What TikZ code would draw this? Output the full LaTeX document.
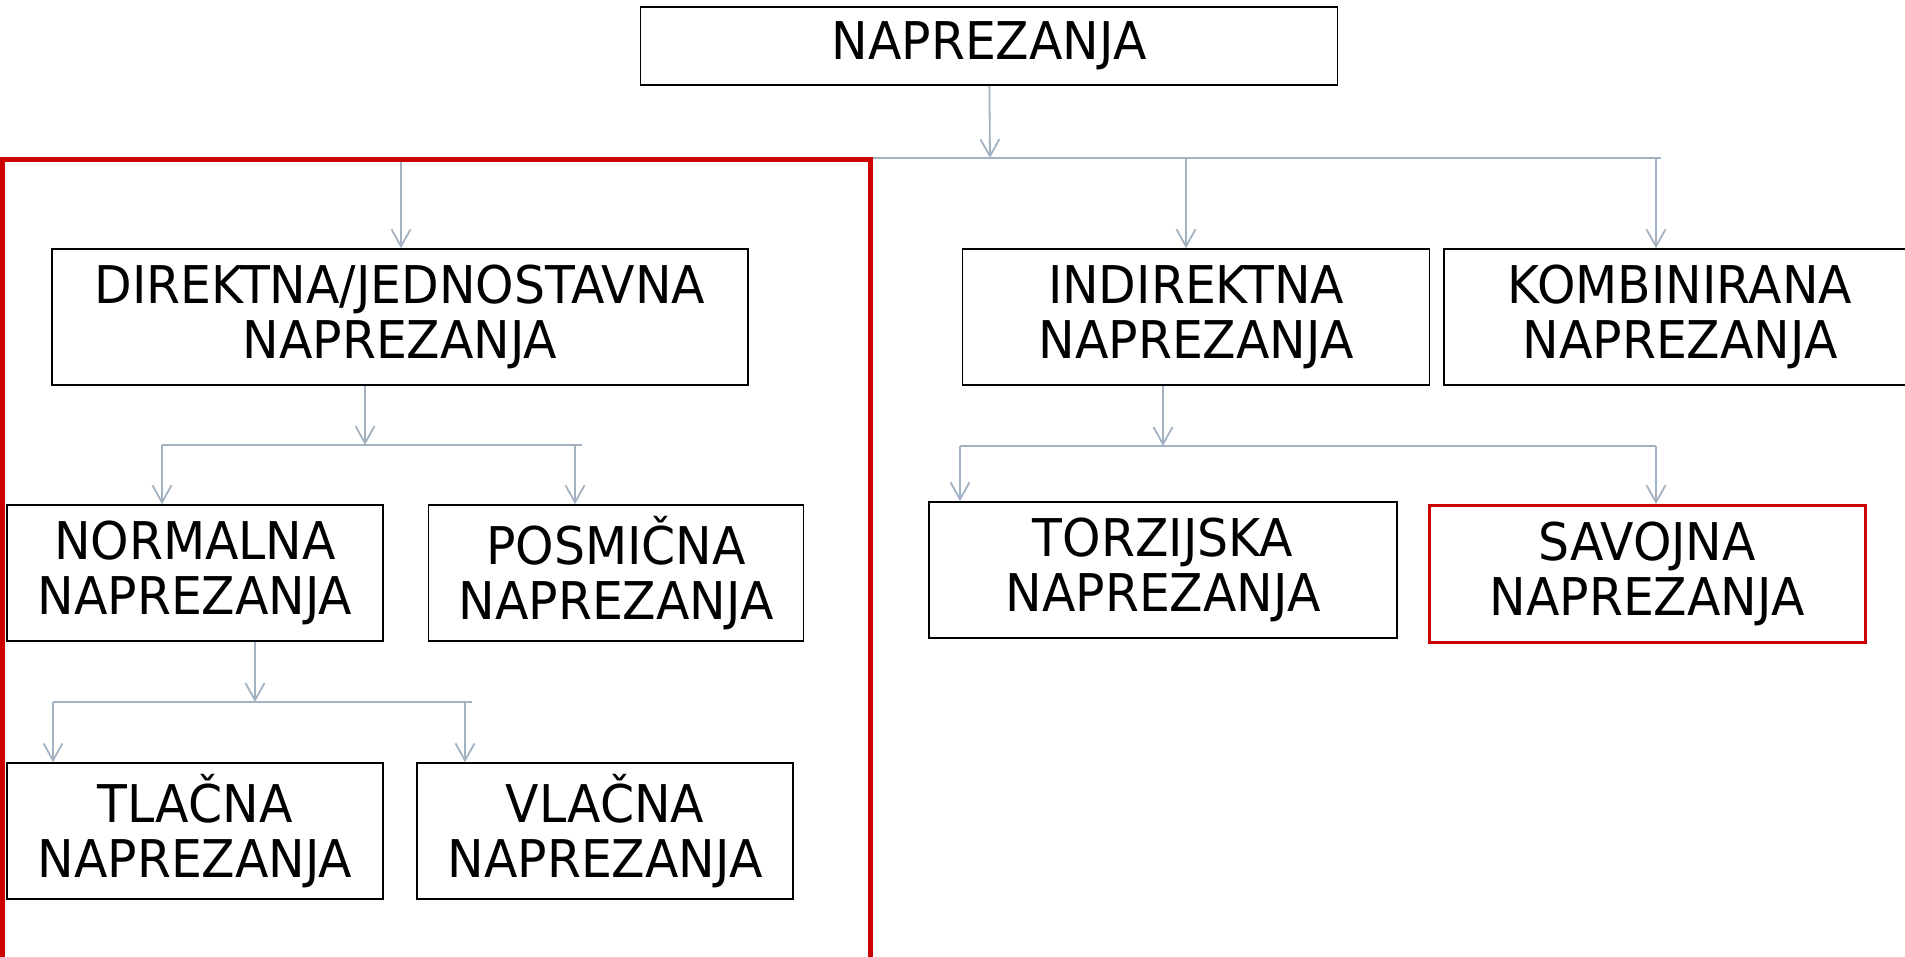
\documentclass[tikz,border=0pt]{standalone}
\usepackage{fontspec}
\setmainfont[FakeStretch=0.94]{DejaVu Sans}
\usepackage{tikz}
\usetikzlibrary{arrows.meta,shapes}
\definecolor{linkgrey}{RGB}{163,178,195}
\definecolor{framered}{RGB}{204,0,0}
\tikzset{
  box/.style={draw,line width=1.6bp,align=center,inner sep=0pt,minimum height=136bp,
    font=\fontsize{52bp}{55bp}\selectfont},
  link/.style={draw=linkgrey,line width=1.8bp},
  arr/.style={link,-{Straight Barb[length=17bp,width=19bp]}},
  frame/.style={draw=framered,line width=5bp}
}
\begin{document}
\begin{tikzpicture}
\useasboundingbox (0bp,0bp) rectangle (1905bp,-957bp);

\node (naprez) at (989bp,-46bp)[box,minimum width=697bp,minimum height=78bp] {NAPREZANJA};
\node (direkt) at (400bp,-317bp)[box,minimum width=696bp] {DIREKTNA/JEDNOSTAVNA\\NAPREZANJA};
\node (indirekt) at (1196bp,-317bp)[box,minimum width=467bp] {INDIREKTNA\\NAPREZANJA};
\node (kombin) at (1680bp,-317bp)[box,minimum width=472bp] {KOMBINIRANA\\NAPREZANJA};
\node (normal) at (195bp,-573bp)[box,minimum width=376bp] {NORMALNA\\NAPREZANJA};
\node (posmic) at (616bp,-573bp)[box,minimum width=375bp] {POSMIČNA\\NAPREZANJA};
\node (tlacna) at (195bp,-831bp)[box,minimum width=376bp] {TLAČNA\\NAPREZANJA};
\node (vlacna) at (605bp,-831bp)[box,minimum width=376bp] {VLAČNA\\NAPREZANJA};
\node (torzij) at (1163bp,-570bp)[box,minimum width=468bp] {TORZIJSKA\\NAPREZANJA};
\node (savoj) at (1647bp,-574bp)[box,draw=framered,line width=3bp,minimum width=436bp,minimum height=137bp] {SAVOJNA\\NAPREZANJA};

% first level
\coordinate (bus1) at (990bp,-158bp);
\draw [arr] (naprez) -- (bus1);
\draw [link] (401bp,-158bp) -- (1661bp,-158bp);
\coordinate (d1) at (401bp,-158bp);
\coordinate (d2) at (1186bp,-158bp);
\coordinate (d3) at (1656bp,-158bp);
\draw [arr] (d1) -- (d1 |- direkt.north);
\draw [arr] (d2) -- (d2 |- indirekt.north);
\draw [arr] (d3) -- (d3 |- kombin.north);

% direktna
\coordinate (o2) at (365bp,-445bp);
\draw [arr] (o2 |- direkt.south) -- (o2);
\coordinate (n1) at (162bp,-445bp);
\coordinate (n2) at (575bp,-445bp);
\draw [link] (n1) -- (582bp,-445bp);
\draw [arr] (n1) -- (n1 |- normal.north);
\draw [arr] (n2) -- (n2 |- posmic.north);

% normalna
\coordinate (o3) at (255bp,-702bp);
\draw [arr] (o3 |- normal.south) -- (o3);
\coordinate (t1) at (53bp,-702bp);
\coordinate (t2) at (465bp,-702bp);
\draw [link] (t1) -- (472bp,-702bp);
\draw [arr] (t1) -- (t1 |- tlacna.north);
\draw [arr] (t2) -- (t2 |- vlacna.north);

% indirektna
\coordinate (o4) at (1163bp,-446bp);
\draw [arr] (o4 |- indirekt.south) -- (o4);
\coordinate (s1) at (960bp,-446bp);
\coordinate (s2) at (1656bp,-446bp);
\draw [link] (s1) -- (s2);
\draw [arr] (s1) -- (s1 |- torzij.north);
\draw [arr] (s2) -- (s2 |- savoj.north);

% red frame round the direct group
\draw [frame] (2bp,-1000bp) rectangle (870bp,-159bp);
\end{tikzpicture}
\end{document}
